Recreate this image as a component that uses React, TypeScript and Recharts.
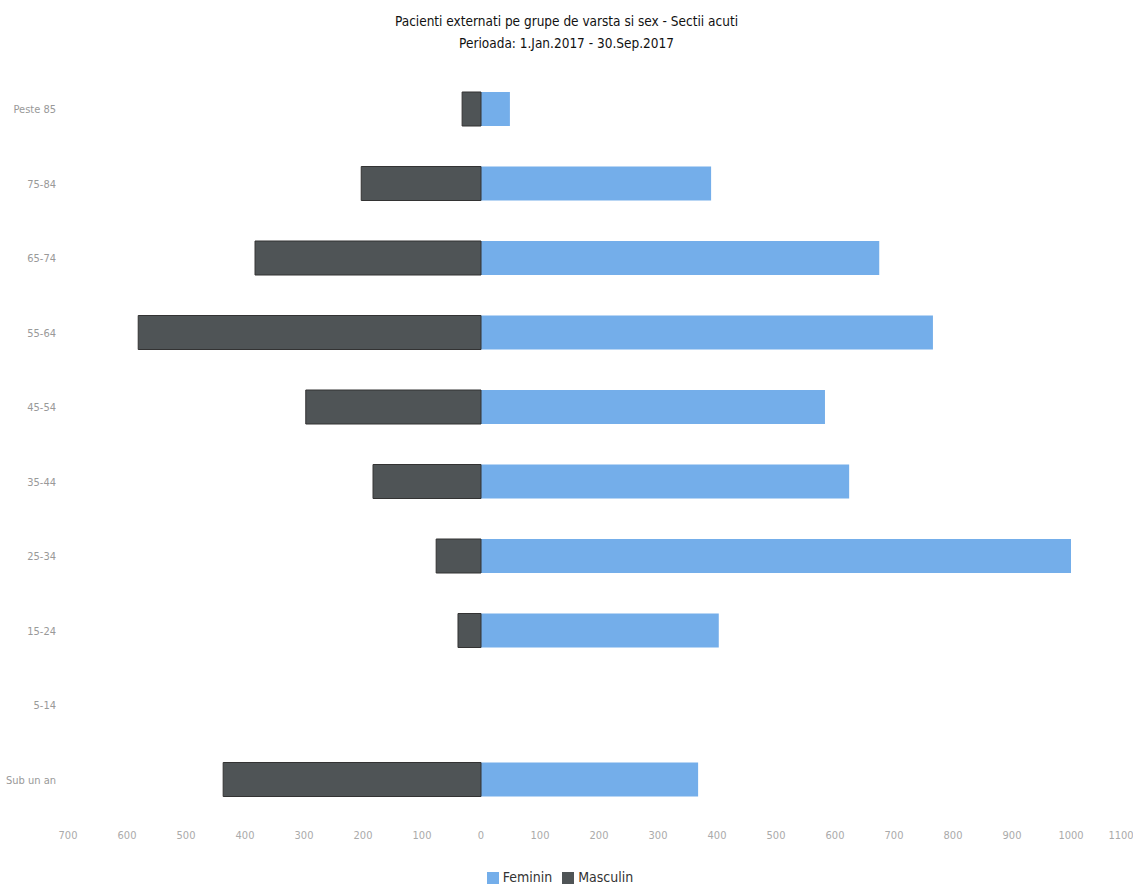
import React from 'react';
import { BarChart, Bar, XAxis, YAxis, Legend } from 'recharts';

const ageGroups = ['Peste 85', '75-84', '65-74', '55-64', '45-54', '35-44', '25-34', '15-24', '5-14', 'Sub un an'];
const feminin = [49, 390, 675, 766, 583, 624, 1000, 403, 0, 368];
const masculin = [32, 203, 383, 581, 297, 183, 76, 39, 0, 437];
const xTicks = [-700, -600, -500, -400, -300, -200, -100, 0, 100, 200, 300, 400, 500, 600, 700, 800, 900, 1000, 1100];

const FONT = "'Liberation Sans Narrow', 'DejaVu Sans Condensed', sans-serif";

// males go to the left of zero, so store them negative for the chart
const data = ageGroups.map((name, i) => ({
  name,
  Feminin: feminin[i],
  Masculin: -masculin[i],
}));

// keeps the last label ("1100") inside the page
const XTick = (props: any) => {
  const { x, y, payload } = props;
  const tx = Math.min(x, 1133 - 12);
  return (
    <text x={tx} y={y} dy="0.71em" textAnchor="middle" fill="#aaa" fontSize={11} fontFamily={FONT}>
      {Math.abs(payload.value)}
    </text>
  );
};

const App: React.FC = () => {
  return (
    <div style={{ position: 'absolute', left: 0, top: 0, width: 1133, height: 886, background: '#fff', fontFamily: FONT }}>
      <div
        style={{
          position: 'absolute',
          top: 10,
          left: 0,
          width: 1133,
          textAlign: 'center',
          fontSize: 13.5,
          lineHeight: '22px',
          color: '#111',
          fontStretch: 'condensed',
        }}
      >
        <div>Pacienti externati pe grupe de varsta si sex - Sectii acuti</div>
        <div>Perioada: 1.Jan.2017 - 30.Sep.2017</div>
      </div>
      <BarChart
        width={1133}
        height={886}
        data={data}
        layout="vertical"
        stackOffset="sign"
        barSize={34}
        margin={{ top: 72, right: 3, left: 0, bottom: 0 }}
      >
        <XAxis
          type="number"
          domain={[-700, 1100]}
          ticks={xTicks}
          interval={0}
          axisLine={false}
          tickLine={false}
          tickMargin={8}
          height={50}
          tick={<XTick />}
        />
        <YAxis
          type="category"
          dataKey="name"
          width={68}
          axisLine={false}
          tickLine={false}
          tickMargin={6}
          tick={{ fill: '#999', fontSize: 11, fontFamily: FONT }}
        />
        <Legend
          verticalAlign="bottom"
          align="center"
          iconType="square"
          iconSize={12}
          formatter={(value: string) => (
            <span style={{ color: '#333', fontSize: 14, fontFamily: FONT }}>{value}</span>
          )}
        />
        <Bar dataKey="Feminin" stackId="a" fill="#74aeea" isAnimationActive={false} />
        <Bar dataKey="Masculin" stackId="a" fill="#4f5456" stroke="#333" strokeWidth={1} isAnimationActive={false} />
      </BarChart>
    </div>
  );
};

export default App;
